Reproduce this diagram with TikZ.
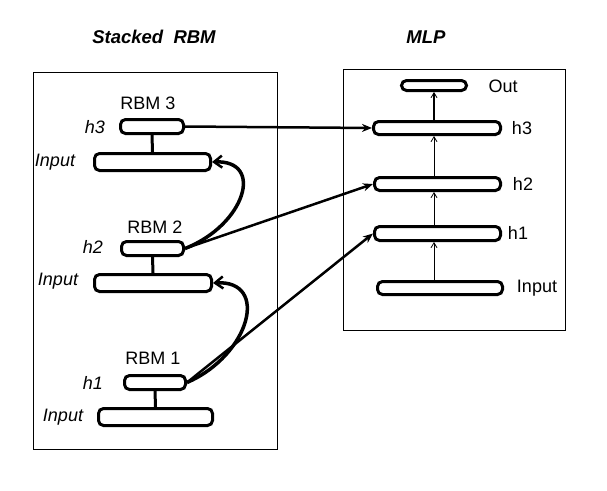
\documentclass[tikz,border=0pt]{standalone}
\usepackage{fontspec}
\setmainfont{Liberation Sans}
\usetikzlibrary{arrows.meta}
\begin{document}
\begin{tikzpicture}[x=1pt,y=-1pt,
  lbl/.style={font=\fontsize{18}{21}\selectfont, inner sep=0},
  ilbl/.style={font=\fontsize{18}{21}\selectfont\itshape, inner sep=0},
  ttl/.style={font=\fontsize{18.5}{22}\selectfont\bfseries\itshape, inner sep=0},
  boxframe/.style={draw, line width=1pt},
  unitbox/.style={draw, line width=3pt, rounded corners=5pt, inner sep=0},
  stemline/.style={line width=3pt},
  feedarrow/.style={line width=2.5pt, -{Stealth[length=10pt,width=8pt]}},
  curvearrow/.style={line width=3.5pt, -{Straight Barb[length=8pt,width=12pt,line width=2.5pt]}},
  uparrow/.style={line width=0.9pt, -{Straight Barb[length=5pt,width=6pt,line width=0.8pt]}}
]
\useasboundingbox (0,0) rectangle (607,490);
% titles
\node[ttl] (t1) at (154,37) {Stacked\ \ RBM};
\node[ttl] (t2) at (426,37) {MLP};
% frames
\draw[boxframe] (33,72) rectangle (277,449);
\draw[boxframe] (343,69) rectangle (565,330);
% stacked RBM
\node[unitbox, minimum width=63pt, minimum height=14pt] (h3) at (152,126.5) {};
\node[unitbox, minimum width=116pt, minimum height=17pt] (i3) at (152.5,162) {};
\node[unitbox, minimum width=62pt, minimum height=14pt] (h2) at (152.5,248.5) {};
\node[unitbox, minimum width=117pt, minimum height=17pt] (i2) at (153,283) {};
\node[unitbox, minimum width=61pt, minimum height=14pt] (h1) at (155,382.5) {};
\node[unitbox, minimum width=114pt, minimum height=17pt] (i1) at (155.5,417) {};
\node[lbl] (r3) at (148,103) {RBM 3};
\node[lbl] (r2) at (155,227) {RBM 2};
\node[lbl] (r1) at (153,358) {RBM 1};
\node[ilbl] (lh3) at (95,127) {h3};
\node[ilbl] (lh2) at (93,247) {h2};
\node[ilbl] (lh1) at (93,383) {h1};
\node[ilbl] (li3) at (55,162) {Input};
\node[ilbl] (li2) at (58,281) {Input};
\node[ilbl] (li1) at (63,417) {Input};
\draw[stemline] (h3.south) -- (i3.north);
\draw[stemline] (h2.south) -- (i2.north);
\draw[stemline] (h1.south) -- (i1.north);
\draw[curvearrow] (h2.east) .. controls (245,225) and (265,160) .. (i3.east);
\draw[curvearrow] (h1.east) .. controls (250,355) and (270,280) .. (i2.east);
% MLP
\node[unitbox, minimum width=65pt, minimum height=10pt] (mo) at (434,85.5) {};
\node[unitbox, minimum width=127pt, minimum height=13pt] (m3) at (437,128) {};
\node[unitbox, minimum width=126pt, minimum height=13pt] (m2) at (437.5,184) {};
\node[unitbox, minimum width=126pt, minimum height=14pt] (m1) at (437.5,233.5) {};
\node[unitbox, minimum width=125pt, minimum height=13pt] (mi) at (440,288) {};
\node[lbl] (lo) at (503,86) {Out};
\node[lbl] (lm3) at (522,128) {h3};
\node[lbl] (lm2) at (523,184) {h2};
\node[lbl] (lm1) at (518,233) {h1};
\node[lbl] (lmi) at (537,288) {Input};
\draw[uparrow] (mi.north -| 434,0) -- (m1.south -| 434,0);
\draw[uparrow] (m1.north -| 434,0) -- (m2.south -| 434,0);
\draw[uparrow] (m2.north -| 434,0) -- (m3.south -| 434,0);
\draw[uparrow, line width=1.5pt] (m3.north -| 434,0) -- (mo.south -| 434,0);
% feeds
\draw[feedarrow] (h3.east) -- (m3.west);
\draw[feedarrow] (h2.east) -- (m2.west);
\draw[feedarrow] (h1.east) -- (m1.west);
\end{tikzpicture}
\end{document}
